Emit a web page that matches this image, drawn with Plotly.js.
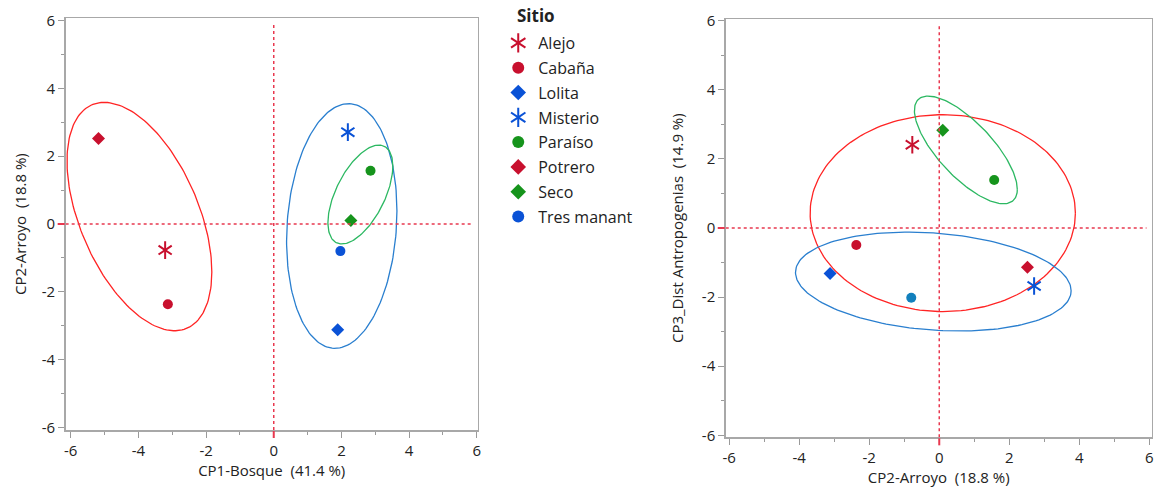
<!DOCTYPE html>
<html><head><meta charset="utf-8">
<script src="https://cdn.plot.ly/plotly-3.0.1.min.js"></script>
<style>html,body{margin:0;padding:0;background:#fff}#chart{width:1156px;height:491px}</style>
</head><body><div id="chart"></div>
<script>
// ---- data ----
const sitios = ['Alejo','Cabaña','Lolita','Misterio','Paraíso','Potrero','Seco','Tres manant'];
const cp1 = [-3.21, -3.13, 1.89, 2.19, 2.86, -5.18, 2.28, 1.97];
const cp2 = [-0.77, -2.37, -3.12, 2.71, 1.57, 2.52, 0.10, -0.80];
const cp3 = [2.41, -0.49, -1.32, -1.68, 1.39, -1.14, 2.83, -2.02];
const tickVals = [-6, -4, -2, 0, 2, 4, 6];
const tickText = ['-6', '-4', '-2', '0', '2', '4', '6'];
const minorVals = [-5, -3, -1, 1, 3, 5];
// ellipse parameters: [centre x, centre y, var x, cov xy, var y]
const ellLeftRed   = [-3.97, 0.22, 4.58, -3.5, 11.36];
const ellLeftBlue  = [2.01, -0.06, 2.66, 0.72, 13.03];
const ellLeftGreen = [2.56, 0.87, 0.92, 0.80, 2.13];
const ellRightRed   = [0.10, 0.43, 14.36, 0.0, 8.12];
const ellRightBlue  = [-0.17, -1.55, 15.5, -1.05, 2.05];
const ellRightGreen = [0.76, 2.26, 2.16, -1.68, 2.43];

// ---- styles ----
const symbols = ['ast','circle','diamond','ast','circle','diamond','diamond','circle'];
const colors = ['#c8102e','#c8102e','#0a52d6','#0a52d6','#16941c','#c8102e','#16941c','#0a52d6'];
const colorsRight = ['#c8102e','#c8102e','#0a52d6','#0a52d6','#16941c','#c8102e','#16941c','#1280bd'];
const RED_E = '#ff2424', BLUE_E = '#2a7fcf', GREEN_E = '#2cb862';
const FONT = 'Open Sans, Noto Sans, sans-serif';
const TXT = '#222';
const NB = '\u00a0';

const xDomL = [0.0568, 0.4133], yDomL = [0.1242, 0.9627];
const xDomR = [0.6278, 0.9963], yDomR = [0.1093, 0.9613];
const xRngL = [-6.15, 6.03], yRngL = [-6.08, 6.07];
const xRngR = [-6.10, 6.07], yRngR = [-6.06, 6.05];

function ellipse(p, n) {
  const [cx, cy, sxx, sxy, syy] = p;
  const l11 = Math.sqrt(sxx), l21 = sxy / l11, l22 = Math.sqrt(syy - l21 * l21);
  const xs = [], ys = [];
  for (let i = 0; i <= n; i++) {
    const t = 2 * Math.PI * i / n;
    xs.push(cx + l11 * Math.cos(t));
    ys.push(cy + l21 * Math.cos(t) + l22 * Math.sin(t));
  }
  return {xs, ys};
}

const traces = [];
function addEllipse(p, color, xa, ya) {
  const e = ellipse(p, 180);
  traces.push({type: 'scatter', mode: 'lines', x: e.xs, y: e.ys, xaxis: xa, yaxis: ya,
    line: {color: color, width: 1.3}, showlegend: false, hoverinfo: 'skip'});
}
addEllipse(ellLeftRed, RED_E, 'x', 'y');
addEllipse(ellLeftBlue, BLUE_E, 'x', 'y');
addEllipse(ellLeftGreen, GREEN_E, 'x', 'y');
addEllipse(ellRightRed, RED_E, 'x2', 'y2');
addEllipse(ellRightBlue, BLUE_E, 'x2', 'y2');
addEllipse(ellRightGreen, GREEN_E, 'x2', 'y2');

function markerFor(i, col, alt) {
  const s = symbols[i];
  if (s === 'ast') {
    return {symbol: alt ? 'y-down-open' : 'y-up-open', size: 11, color: col, line: {color: col, width: 2}};
  }
  return {symbol: s, size: 10, color: col, line: {width: 0}};
}

// points: left plot (legend), right plot
sitios.forEach((s, i) => {
  traces.push({type: 'scatter', mode: 'markers', name: s, legendgroup: 'g' + i,
    x: [cp1[i]], y: [cp2[i]], xaxis: 'x', yaxis: 'y', marker: markerFor(i, colors[i], false)});
});
sitios.forEach((s, i) => {
  traces.push({type: 'scatter', mode: 'markers', name: s, legendgroup: 'r' + i, showlegend: false,
    x: [cp2[i]], y: [cp3[i]], xaxis: 'x2', yaxis: 'y2', marker: markerFor(i, colorsRight[i], false)});
});
// second half of the six-armed asterisks (y-up + y-down); legend2 rows sit on top of legend rows,
// with transparent spacer rows for the sites that need no overlay
sitios.forEach((s, i) => {
  if (i > 3) return;
  const ast = symbols[i] === 'ast';
  traces.push({type: 'scatter', mode: 'markers', name: NB, legendgroup: 'h' + i, legend: 'legend2',
    x: [cp1[i]], y: [cp2[i]], xaxis: 'x', yaxis: 'y',
    marker: ast ? markerFor(i, colors[i], true) : {color: 'rgba(0,0,0,0)', size: 1, opacity: 0, line: {width: 0}}});
});
sitios.forEach((s, i) => {
  if (symbols[i] !== 'ast') return;
  traces.push({type: 'scatter', mode: 'markers', name: s, legendgroup: 'q' + i, showlegend: false,
    x: [cp2[i]], y: [cp3[i]], xaxis: 'x2', yaxis: 'y2', marker: markerFor(i, colorsRight[i], true)});
});

function axis(dom, rng, anchor, title, standoff) {
  return {
    domain: dom, range: rng, anchor: anchor, autorange: false,
    tickmode: 'array', tickvals: tickVals, ticktext: tickText,
    ticks: 'outside', ticklen: 6, tickwidth: 1, tickcolor: '#9a9a9a',
    minor: {tickmode: 'array', tickvals: minorVals, ticks: 'outside', ticklen: 3, tickcolor: '#9a9a9a', tickwidth: 1, showgrid: false},
    showline: true, mirror: true, linecolor: '#a8a8a8', linewidth: 1.5,
    showgrid: false, zeroline: false,
    tickfont: {family: FONT, size: 15, color: TXT},
    title: {text: title, font: {family: FONT, size: 15, color: TXT}, standoff: standoff},
    fixedrange: true
  };
}

function px(dom, rng, v) { return dom[0] + (v - rng[0]) / (rng[1] - rng[0]) * (dom[1] - dom[0]); }
const W = 1156, H = 491;
const ZC = '#e8384f';
const shapes = [];
function zeroLines(xa, ya, xDom, yDom, xRng, yRng) {
  shapes.push({type: 'line', xref: xa, yref: ya, x0: 0, x1: 0, y0: yRng[0], y1: yRng[1] - 0.15,
    line: {color: ZC, width: 1.5, dash: 'dot'}});
  shapes.push({type: 'line', xref: xa, yref: ya, x0: xRng[0], x1: xRng[1] - 0.15, y0: 0, y1: 0,
    line: {color: ZC, width: 1.5, dash: 'dot'}});
  const xp = px(xDom, xRng, 0), yp = px(yDom, yRng, 0);
  shapes.push({type: 'line', xref: 'paper', yref: 'paper', x0: xp, x1: xp, y0: yDom[0] - 1 / H, y1: yDom[0] - 8 / H,
    line: {color: ZC, width: 2}});
  shapes.push({type: 'line', xref: 'paper', yref: 'paper', x0: xDom[0] - 1 / W, x1: xDom[0] - 8 / W, y0: yp, y1: yp,
    line: {color: ZC, width: 2}});
}
zeroLines('x', 'y', xDomL, yDomL, xRngL, yRngL);
zeroLines('x2', 'y2', xDomR, yDomR, xRngR, yRngR);

const legendBase = {x: 0.431, xanchor: 'left', y: 1 - 26 / H, yanchor: 'top', bgcolor: 'rgba(0,0,0,0)',
  tracegroupgap: 1, itemsizing: 'constant', itemclick: false, itemdoubleclick: false};
const layout = {
  width: W, height: H, margin: {l: 0, r: 0, t: 0, b: 0},
  paper_bgcolor: '#fff', plot_bgcolor: '#fff',
  font: {family: FONT, color: TXT},
  showlegend: true,
  xaxis: axis(xDomL, xRngL, 'y', 'CP1-Bosque' + NB + NB + '(41.4 %)', 4),
  yaxis: axis(yDomL, yRngL, 'x', 'CP2-Arroyo' + NB + NB + '(18.8 %)', 11),
  xaxis2: axis(xDomR, xRngR, 'y2', 'CP2-Arroyo' + NB + NB + '(18.8 %)', 5),
  yaxis2: axis(yDomR, yRngR, 'x2', 'CP3_Dist Antropogenias' + NB + NB + '(14.9 %)', 14),
  legend: Object.assign({}, legendBase, {font: {family: FONT, size: 16, color: TXT}}),
  legend2: Object.assign({}, legendBase, {font: {family: FONT, size: 16, color: TXT}}),
  annotations: [{text: '<b>Sitio</b>', xref: 'paper', yref: 'paper', x: 515 / W, y: 1 - 15 / H,
    xanchor: 'left', yanchor: 'middle', showarrow: false, font: {family: FONT, size: 17, color: TXT}}],
  shapes: shapes
};

Plotly.newPlot('chart', traces, layout, {displayModeBar: false, staticPlot: true});
</script>
</body></html>
